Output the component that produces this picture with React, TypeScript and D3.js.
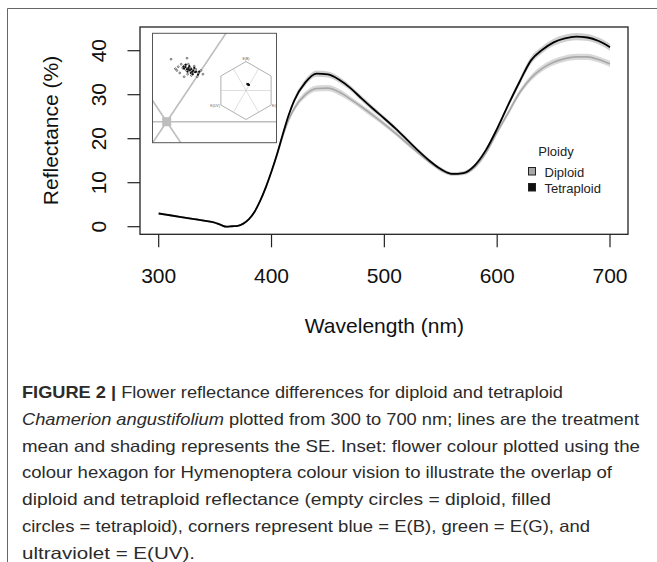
import React from "react";
import * as d3 from "d3";

// reflectance spectra
const wavelengths = [300, 310, 320, 330, 340, 350, 355, 360, 365, 370, 375, 380, 385, 390, 395, 400, 405, 410, 415, 420, 430, 440, 450, 460, 470, 480, 490, 500, 510, 520, 530, 540, 550, 560, 570, 580, 590, 600, 610, 620, 630, 640, 650, 660, 670, 680, 690, 700];
const tetraploid = [3.0, 2.6, 2.2, 1.8, 1.4, 0.9, 0.4, 0.0, 0.1, 0.2, 0.7, 1.7, 3.4, 5.9, 9.0, 12.6, 16.6, 21.0, 25.2, 28.6, 32.8, 34.8, 34.6, 33.4, 31.5, 29.1, 26.8, 24.6, 22.3, 19.8, 17.3, 15.0, 13.1, 12.0, 12.2, 13.9, 17.4, 22.3, 27.8, 33.0, 37.8, 40.2, 41.9, 42.8, 43.2, 43.0, 42.2, 40.8];
const diploid = [3.0, 2.6, 2.2, 1.8, 1.4, 0.9, 0.4, 0.0, 0.1, 0.2, 0.7, 1.7, 3.4, 5.9, 9.0, 12.5, 16.4, 20.6, 24.2, 26.8, 30.0, 31.4, 31.5, 30.6, 29.0, 27.2, 25.3, 23.3, 21.2, 19.0, 16.8, 14.7, 12.9, 12.0, 12.1, 13.5, 16.8, 21.5, 26.0, 30.5, 33.8, 36.0, 37.4, 38.2, 38.6, 38.6, 38.0, 37.0];
const seTetra = [0.2, 0.2, 0.2, 0.2, 0.2, 0.2, 0.2, 0.2, 0.2, 0.2, 0.2, 0.2, 0.3, 0.3, 0.4, 0.4, 0.5, 0.5, 0.6, 0.6, 0.7, 0.7, 0.7, 0.7, 0.6, 0.6, 0.6, 0.5, 0.5, 0.5, 0.4, 0.4, 0.4, 0.4, 0.4, 0.4, 0.5, 0.5, 0.6, 0.7, 0.8, 0.8, 0.8, 0.8, 0.8, 0.8, 0.8, 0.8];
const seDiploid = [0.2, 0.2, 0.2, 0.2, 0.2, 0.2, 0.2, 0.2, 0.2, 0.2, 0.2, 0.2, 0.3, 0.3, 0.4, 0.4, 0.5, 0.5, 0.6, 0.6, 0.7, 0.7, 0.7, 0.7, 0.6, 0.6, 0.6, 0.5, 0.5, 0.5, 0.4, 0.4, 0.4, 0.4, 0.4, 0.4, 0.5, 0.5, 0.6, 0.6, 0.7, 0.7, 0.7, 0.7, 0.7, 0.7, 0.7, 0.7];

const xTicks = [300, 400, 500, 600, 700];
const yTicks = [0, 10, 20, 30, 40];

// inset: colour hexagon coordinates (x, y)
const diploidPts = [[0.015, 0.25], [0.07, 0.254], [0.04, 0.22], [0.035, 0.205], [0.05, 0.23], [0.055, 0.215], [0.062, 0.225], [0.045, 0.195], [0.068, 0.205], [0.075, 0.23], [0.082, 0.215], [0.09, 0.2], [0.1, 0.21], [0.11, 0.195], [0.125, 0.19], [0.06, 0.18], [0.085, 0.185], [0.095, 0.222], [0.072, 0.19], [0.105, 0.18], [0.03, 0.212], [0.118, 0.205]];
const tetraPts = [[0.06, 0.212], [0.065, 0.218], [0.07, 0.21], [0.075, 0.215], [0.08, 0.205], [0.085, 0.21], [0.078, 0.222], [0.088, 0.2], [0.092, 0.205], [0.098, 0.198], [0.072, 0.2], [0.066, 0.228], [0.083, 0.195], [0.095, 0.215], [0.102, 0.2], [0.058, 0.22], [0.108, 0.188], [0.09, 0.19], [0.076, 0.208], [0.112, 0.2]];
const hexLabels = ["E(B)", "E(G)", "E(UV)"];

const captionLines = [
  "Flower reflectance differences for diploid and tetraploid",
  "plotted from 300 to 700 nm; lines are the treatment",
  "mean and shading represents the SE. Inset: flower colour plotted using the",
  "colour hexagon for Hymenoptera colour vision to illustrate the overlap of",
  "diploid and tetraploid reflectance (empty circles = diploid, filled",
  "circles = tetraploid), corners represent blue = E(B), green = E(G), and",
  "ultraviolet = E(UV).",
];
const captionWidths = [541, 617, 618, 590, 529, 568, 173];

const font = "'Liberation Sans', Arial, Helvetica, sans-serif";

export default function App() {
  const x = d3.scaleLinear().domain([300, 700]).range([158.7, 610]);
  const y = d3.scaleLinear().domain([0, 40]).range([226.7, 50.7]);
  const box = { l: 140, r: 628, t: 27, b: 234.3 };

  const idx = d3.range(wavelengths.length);
  const line = (v: number[]) =>
    d3.line<number>().x((i) => x(wavelengths[i])).y((i) => y(v[i])).curve(d3.curveMonotoneX)(idx) || "";
  const band = (v: number[], se: number[]) =>
    d3
      .area<number>()
      .x((i) => x(wavelengths[i]))
      .y0((i) => y(v[i] - se[i]))
      .y1((i) => y(v[i] + se[i]))
      .curve(d3.curveMonotoneX)(idx) || "";

  // inset geometry
  const inset = { l: 152.5, t: 33.3, r: 276.5, b: 142.7 };
  const bx = d3.scaleLinear().domain([0, 1]).range([166.7, 166.7 + 290]);
  const by = d3.scaleLinear().domain([0, 1]).range([121.7, 121.7 - 250]);
  const hc = { x: 246, y: 90.5 };
  const R = 29;
  const sx = d3.scaleLinear().domain([0, 1]).range([hc.x, hc.x + R]);
  const sy = d3.scaleLinear().domain([0, 1]).range([hc.y, hc.y - R]);
  const hexVerts = d3.range(6).map((k) => {
    const a = ((90 - 60 * k) * Math.PI) / 180;
    return [Math.cos(a), Math.sin(a)];
  });
  const spokeAngles = [0, 60, 120, 180, 240, 300];
  const spokeLen = Math.cos(Math.PI / 6);

  return (
    <svg width={657} height={562} style={{ position: "absolute", left: 0, top: 0, background: "#fff" }} fontFamily={font}>
      <defs>
        <clipPath id="insetClip">
          <rect x={inset.l} y={inset.t} width={inset.r - inset.l} height={inset.b - inset.t} />
        </clipPath>
      </defs>
      {/* figure frame */}
      <path d="M7.5,562 V8.5 H657" fill="none" stroke="#666" strokeWidth={1} />

      {/* SE bands and mean lines */}
      <path d={band(diploid, seDiploid)} fill="#d9d9d9" />
      <path d={band(tetraploid, seTetra)} fill="#cfcfcf" />
      <path d={line(diploid)} fill="none" stroke="#a8a8a8" strokeWidth={1.6} />
      <path d={line(tetraploid)} fill="none" stroke="#000" strokeWidth={1.8} />

      {/* plot box */}
      <rect x={box.l} y={box.t} width={box.r - box.l} height={box.b - box.t} fill="none" stroke="#222" strokeWidth={1.3} />

      {/* x axis */}
      {xTicks.map((t) => (
        <g key={t}>
          <line x1={x(t)} x2={x(t)} y1={box.b} y2={box.b + 13} stroke="#222" strokeWidth={1.2} />
          <text x={x(t)} y={282.5} fontSize={21} textAnchor="middle" fill="#111">
            {t}
          </text>
        </g>
      ))}
      <text x={384.4} y={333} fontSize={21} textAnchor="middle" fill="#111">
        Wavelength (nm)
      </text>

      {/* y axis */}
      {yTicks.map((t) => (
        <g key={t}>
          <line x1={box.l - 12.5} x2={box.l} y1={y(t)} y2={y(t)} stroke="#222" strokeWidth={1.2} />
          <text transform={`translate(105.5,${y(t)}) rotate(-90)`} fontSize={21} textAnchor="middle" fill="#111">
            {t}
          </text>
        </g>
      ))}
      <text transform="translate(58,130.5) rotate(-90)" fontSize={21} textAnchor="middle" fill="#111">
        Reflectance (%)
      </text>

      {/* legend */}
      <text x={556} y={156} fontSize={13} textAnchor="middle" fill="#222">
        Ploidy
      </text>
      <rect x={528.5} y={167.5} width={7} height={7.5} fill="#a8a8a8" stroke="#222" strokeWidth={1} />
      <rect x={528.5} y={183.5} width={7} height={7.5} fill="#111" stroke="#222" strokeWidth={1} />
      <text x={544.5} y={176.5} fontSize={13} fill="#222">
        Diploid
      </text>
      <text x={544.5} y={192.5} fontSize={13} fill="#222">
        Tetraploid
      </text>

      {/* inset */}
      <rect x={inset.l} y={inset.t} width={inset.r - inset.l} height={inset.b - inset.t} fill="#fff" />
      <g clipPath="url(#insetClip)">
        {spokeAngles.map((a) => {
          const r = (a * Math.PI) / 180;
          return (
            <line key={a} x1={bx(0)} y1={by(0)} x2={bx(Math.cos(r))} y2={by(Math.sin(r))} stroke="#bdbdbd" strokeWidth={1.6} />
          );
        })}
        <rect x={bx(0) - 4.5} y={by(0) - 4.5} width={9} height={9} fill="#bdbdbd" />
        {diploidPts.map((p, i) => (
          <circle key={"d" + i} cx={bx(p[0])} cy={by(p[1])} r={0.9} fill="#fff" stroke="#222" strokeWidth={0.6} />
        ))}
        {tetraPts.map((p, i) => (
          <circle key={"t" + i} cx={bx(p[0])} cy={by(p[1])} r={1.1} fill="#111" />
        ))}

        {/* full hexagon */}
        <polygon points={hexVerts.map((v) => `${sx(v[0])},${sy(v[1])}`).join(" ")} fill="#fff" stroke="#b0b0b0" strokeWidth={1} />
        {spokeAngles.map((a) => {
          const r = (a * Math.PI) / 180;
          return (
            <line key={"s" + a} x1={sx(0)} y1={sy(0)} x2={sx(Math.cos(r) * spokeLen)} y2={sy(Math.sin(r) * spokeLen)} stroke="#d0d0d0" strokeWidth={0.7} />
          );
        })}
        {diploidPts.map((p, i) => (
          <circle key={"sd" + i} cx={sx(p[0])} cy={sy(p[1])} r={0.5} fill="#222" />
        ))}
        {tetraPts.map((p, i) => (
          <circle key={"st" + i} cx={sx(p[0])} cy={sy(p[1])} r={0.6} fill="#111" />
        ))}
        <text x={sx(hexVerts[0][0])} y={sy(hexVerts[0][1]) - 1.5} fontSize={3.5} textAnchor="middle" fill="#666">
          {hexLabels[0]}
        </text>
        <text x={sx(hexVerts[2][0]) + 1} y={sy(hexVerts[2][1]) + 1.5} fontSize={3.5} fill="#666">
          {hexLabels[1]}
        </text>
        <text x={sx(hexVerts[4][0]) - 1} y={sy(hexVerts[4][1]) + 1.5} fontSize={3.5} textAnchor="end" fill="#666">
          {hexLabels[2]}
        </text>
      </g>
      <rect x={inset.l} y={inset.t} width={inset.r - inset.l} height={inset.b - inset.t} fill="none" stroke="#555" strokeWidth={1} />

      {/* caption */}
      {captionLines.map((s, i) => (
        <text
          key={i}
          x={22}
          y={398 + 26.8 * i}
          fontSize={16.5}
          fill="#2b2b2b"
          textLength={captionWidths[i]}
          lengthAdjust="spacingAndGlyphs"
        >
          {i === 0 && <tspan fontWeight="bold">FIGURE 2 | </tspan>}
          {i === 1 && <tspan fontStyle="italic">Chamerion angustifolium </tspan>}
          {s}
        </text>
      ))}
    </svg>
  );
}
